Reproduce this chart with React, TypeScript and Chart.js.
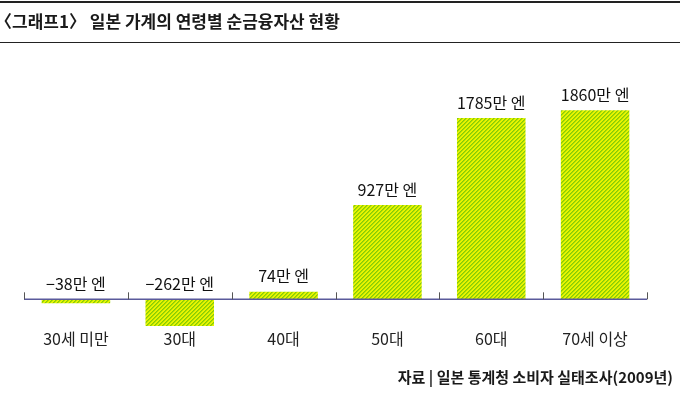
import React, { useEffect, useRef } from "react";
import { Chart, registerables } from "chart.js";

Chart.register(...registerables);

const categories = ["30세 미만", "30대", "40대", "50대", "60대", "70세 이상"];
const values = [-38, -262, 74, 927, 1785, 1860];
const valueLabels = ["−38만 엔", "−262만 엔", "74만 엔", "927만 엔", "1785만 엔", "1860만 엔"];
const titleText = "〈그래프1〉 일본 가계의 연령별 순금융자산 현황";
const sourceText = "자료 | 일본 통계청 소비자 실태조사(2009년)";

const FONT = "'Noto Sans CJK KR', 'Noto Sans', sans-serif";

function makePattern(): CanvasPattern | string {
  const c = document.createElement("canvas");
  c.width = 4;
  c.height = 4;
  const g = c.getContext("2d");
  if (!g) return "#c8e400";
  g.fillStyle = "#e8f400";
  g.fillRect(0, 0, 4, 4);
  // diagonal stripe "/" two pixels wide per row
  for (let y = 0; y < 4; y++) {
    const x = 3 - y;
    g.fillStyle = "#86cc06";
    g.fillRect(x, y, 1, 1);
    g.fillStyle = "#a8dc04";
    g.fillRect((x + 1) % 4, y, 1, 1);
  }
  const p = g.createPattern(c, "repeat");
  return p || "#c8e400";
}

const decorPlugin = {
  id: "decor",
  afterDraw(chart: any) {
    const ctx = chart.ctx as CanvasRenderingContext2D;
    const xs = chart.scales.x;
    const ys = chart.scales.y;
    const zeroY = ys.getPixelForValue(0);
    ctx.save();
    // rules
    ctx.fillStyle = "#222";
    ctx.fillRect(0, 1, 680, 2);
    ctx.fillRect(0, 42, 680, 1);
    // title
    ctx.font = `bold 17px ${FONT}`;
    ctx.fillStyle = "#1a1a1a";
    ctx.textAlign = "left";
    ctx.textBaseline = "middle";
    ctx.fillText(titleText, -5, 22);
    // source
    ctx.font = `bold 15px ${FONT}`;
    ctx.textAlign = "right";
    ctx.fillText(sourceText, 673, 377);
    // baseline + ticks
    const n = categories.length;
    const step = (xs.right - xs.left) / n;
    ctx.strokeStyle = "#5a5a9c";
    ctx.lineWidth = 1.5;
    ctx.beginPath();
    ctx.moveTo(xs.left, zeroY);
    ctx.lineTo(xs.right, zeroY);
    ctx.stroke();
    ctx.strokeStyle = "#555";
    ctx.lineWidth = 1;
    ctx.beginPath();
    for (let i = 0; i <= n; i++) {
      const x = Math.round(xs.left + step * i) + 0.5;
      ctx.moveTo(x, zeroY);
      ctx.lineTo(x, zeroY - 7);
    }
    ctx.stroke();
    // value labels
    const meta = chart.getDatasetMeta(0);
    ctx.font = `16px ${FONT}`;
    ctx.fillStyle = "#111";
    ctx.textAlign = "center";
    ctx.textBaseline = "middle";
    meta.data.forEach((bar: any, i: number) => {
      const top = values[i] >= 0 ? bar.y : zeroY;
      ctx.fillText(valueLabels[i], bar.x, top - 15.5);
    });
    ctx.restore();
  },
};

export default function App() {
  const ref = useRef<HTMLCanvasElement | null>(null);
  useEffect(() => {
    if (!ref.current) return;
    const chart = new Chart(ref.current, {
      type: "bar",
      data: {
        labels: categories,
        datasets: [
          {
            data: values,
            backgroundColor: makePattern() as any,
            borderWidth: 0,
            barPercentage: 0.66,
            categoryPercentage: 1,
          },
        ],
      },
      options: {
        responsive: false,
        animation: false,
        layout: { padding: { left: 24, right: 33, top: 60, bottom: 46 } },
        plugins: { legend: { display: false }, tooltip: { enabled: false }, title: { display: false } },
        scales: {
          x: {
            grid: { display: false, drawTicks: false },
            border: { display: false },
            ticks: {
              padding: 0,
              color: "#222",
              font: { family: FONT, size: 16 },
            },
          },
          y: {
            display: false,
            min: -300,
            max: 2355,
          },
        },
      },
      plugins: [decorPlugin],
    });
    return () => chart.destroy();
  }, []);
  return (
    <div style={{ position: "fixed", left: 0, top: 0, width: 680, height: 395, background: "#fff" }}>
      <canvas ref={ref} width={680} height={395} />
    </div>
  );
}
